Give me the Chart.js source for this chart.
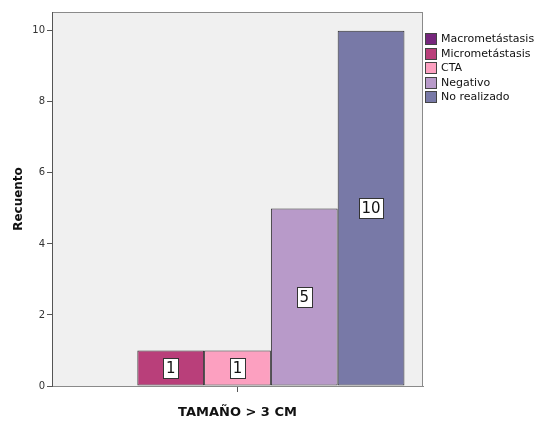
<!DOCTYPE html>
<html>
<head>
<meta charset="utf-8">
<script src="https://cdn.jsdelivr.net/npm/chart.js@4.4.0/dist/chart.umd.min.js"></script>
<style>
  html, body { margin: 0; padding: 0; background: #ffffff; }
  #wrap { width: 534px; height: 425px; position: relative; }
</style>
</head>
<body>
<div id="wrap"><canvas id="c" width="534" height="425"></canvas></div>
<script>
// Counts of ganglion status for tumours larger than 3 cm
const categories = ['TAMAÑO > 3 CM'];
const seriesNames = ['Macrometástasis', 'Micrometástasis', 'CTA', 'Negativo', 'No realizado'];
const seriesValues = [0, 1, 1, 5, 10];
const seriesColors = ['#76267c', '#b93f7a', '#fca0c0', '#b89ac9', '#7879a7'];
const yTicks = [0, 2, 4, 6, 8, 10];

const FONT = "'DejaVu Sans', sans-serif";

const datasets = seriesNames.map((name, i) => ({
  label: name,
  data: [seriesValues[i]],
  backgroundColor: seriesColors[i],
  borderColor: '#2e2e2e',
  borderWidth: 1,
  borderSkipped: false,
  categoryPercentage: 0.9,
  barPercentage: 1.0
}));

// Grey plot background with frame
const plotBackground = {
  id: 'plotBackground',
  beforeDraw(chart) {
    const { ctx, chartArea: a } = chart;
    ctx.save();
    ctx.fillStyle = '#f0f0f0';
    ctx.fillRect(a.left, a.top, a.right - a.left, a.bottom - a.top);
    ctx.strokeStyle = '#8a8a8a';
    ctx.lineWidth = 1;
    ctx.strokeRect(a.left + 0.5, a.top + 0.5, a.right - a.left - 1, a.bottom - a.top);
    ctx.restore();
  }
};

// Boxed count written at the middle of each bar
const barLabels = {
  id: 'barLabels',
  afterDatasetsDraw(chart) {
    const { ctx } = chart;
    ctx.save();
    ctx.font = '15px ' + FONT;
    ctx.textAlign = 'center';
    ctx.textBaseline = 'middle';
    chart.data.datasets.forEach((ds, i) => {
      const v = ds.data[0];
      if (!v) return;
      const bar = chart.getDatasetMeta(i).data[0];
      const cx = bar.x;
      const cy = (bar.y + bar.base) / 2;
      const txt = String(v);
      const w = ctx.measureText(txt).width + 5;
      const h = 20;
      ctx.fillStyle = '#ffffff';
      ctx.fillRect(Math.round(cx - w / 2) + 0.5, Math.round(cy - h / 2) + 0.5, Math.round(w), h);
      ctx.strokeStyle = '#333333';
      ctx.lineWidth = 1;
      ctx.strokeRect(Math.round(cx - w / 2) + 0.5, Math.round(cy - h / 2) + 0.5, Math.round(w), h);
      ctx.fillStyle = '#111111';
      ctx.fillText(txt, cx, cy + 1);
    });
    ctx.restore();
  }
};

// Legend at the right of the plot
const sideLegend = {
  id: 'sideLegend',
  afterDraw(chart) {
    const { ctx, chartArea: a } = chart;
    ctx.save();
    ctx.font = '11px ' + FONT;
    ctx.textBaseline = 'middle';
    ctx.textAlign = 'left';
    const x0 = a.right + 2;
    const y0 = 39;
    const step = 14.6;
    chart.data.datasets.forEach((ds, i) => {
      const y = Math.round(y0 + i * step);
      ctx.fillStyle = ds.backgroundColor;
      ctx.fillRect(x0 + 0.5, y - 5.5, 11, 11);
      ctx.strokeStyle = '#444444';
      ctx.lineWidth = 1;
      ctx.strokeRect(x0 + 0.5, y - 5.5, 11, 11);
      ctx.fillStyle = '#111111';
      ctx.fillText(ds.label, x0 + 16, y + 0.5);
    });
    ctx.restore();
  }
};

new Chart(document.getElementById('c'), {
  type: 'bar',
  data: { labels: categories, datasets },
  options: {
    responsive: false,
    animation: false,
    layout: { padding: { left: 0, right: 111, top: 12, bottom: 0 } },
    plugins: {
      legend: { display: false },
      tooltip: { enabled: false }
    },
    scales: {
      x: {
        offset: true,
        grid: {
          display: true,
          offset: false,
          drawOnChartArea: false,
          drawTicks: true,
          tickLength: 6,
          tickColor: '#555555'
        },
        border: { display: true, color: '#8a8a8a', width: 1 },
        ticks: { display: true, callback: () => '', padding: 0 },
        title: {
          display: true,
          text: categories[0],
          font: { family: FONT, size: 13, weight: 'bold' },
          color: '#111111',
          padding: { top: 0, bottom: 5 }
        },
        afterFit(scale) { scale.height = 39; }
      },
      y: {
        min: 0,
        max: 10.53,
        afterBuildTicks(scale) { scale.ticks = yTicks.map(v => ({ value: v })); },
        grid: {
          display: true,
          drawOnChartArea: false,
          drawTicks: true,
          tickLength: 5,
          tickColor: '#555555'
        },
        border: { display: true, color: '#555555', width: 1 },
        ticks: {
          font: { family: FONT, size: 10 },
          color: '#333333',
          padding: 2
        },
        title: {
          display: true,
          text: 'Recuento',
          font: { family: FONT, size: 12, weight: 'bold' },
          color: '#111111',
          padding: { top: 12, bottom: 0 }
        },
        afterFit(scale) { scale.width = 52; }
      }
    }
  },
  plugins: [plotBackground, barLabels, sideLegend]
});
</script>
</body>
</html>
